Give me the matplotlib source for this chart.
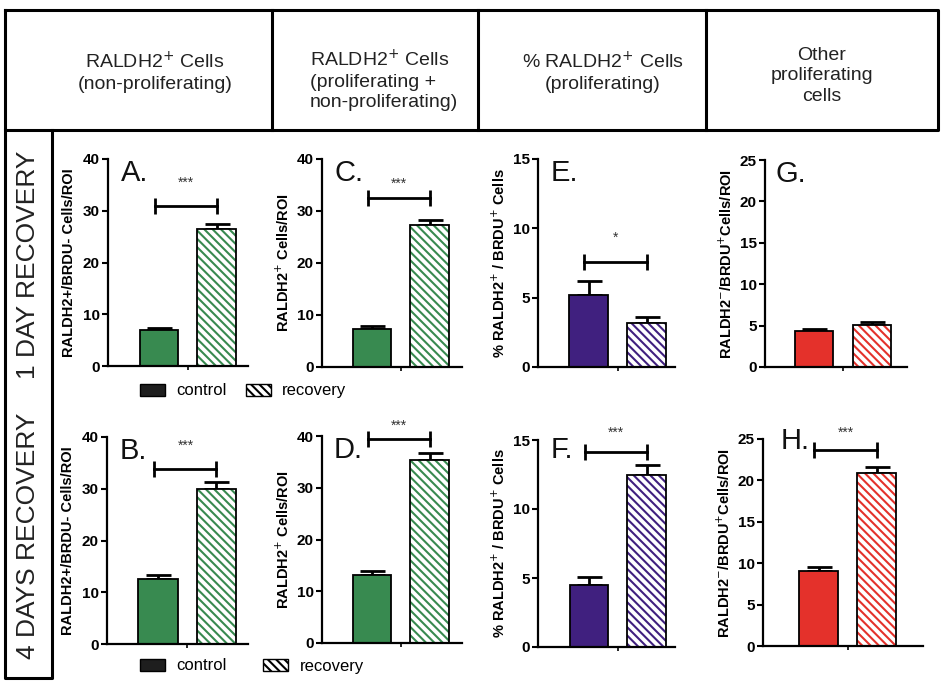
import numpy as np
import matplotlib.pyplot as plt
from matplotlib.patches import Patch

plt.rcParams['font.family'] = ['Liberation Sans', 'DejaVu Sans']
plt.rcParams['hatch.linewidth'] = 1.5

W, H = 944, 689

# data (control vs recovery, mean and upper SEM)
panels = ['A', 'C', 'E', 'G', 'B', 'D', 'F', 'H']
control = [7.0, 7.4, 5.2, 4.3, 12.6, 13.2, 4.5, 9.1]
control_err = [0.35, 0.4, 1.0, 0.3, 0.7, 0.8, 0.6, 0.5]
recovery = [26.5, 27.4, 3.2, 5.1, 30.0, 35.3, 12.5, 20.9]
recovery_err = [0.9, 0.9, 0.4, 0.3, 1.3, 1.5, 0.7, 0.7]
sig_text = ['***', '***', '*', '', '***', '***', '***', '***']
sig_level = [31, 32.5, 7.6, None, 33.8, 39.4, 14.1, 23.7]
star_level = [35.5, 35.2, 9.3, None, 38.3, 42.0, 15.5, 25.7]
y_max = [40, 40, 15, 25, 40, 40, 15, 25]
y_step = [10, 10, 5, 5, 10, 10, 5, 5]
ylabels = ['RALDH2+/BRDU- Cells/ROI',
           r'RALDH2$^{+}$ Cells/ROI',
           r'% RALDH2$^{+}$ / BRDU$^{+}$ Cells',
           r'RALDH2$^{-}$/BRDU$^{+}$Cells/ROI'] * 2
colors = ['#388a50', '#388a50', '#40207f', '#e4312b'] * 2
letter_y = [40, 40, 15, 25, 40, 40, 15.3, 26.4]

headers = ['RALDH2$^{+}$ Cells\n(non-proliferating)',
           'RALDH2$^{+}$ Cells\n(proliferating +\nnon-proliferating)',
           '% RALDH2$^{+}$ Cells\n(proliferating)',
           'Other\nproliferating\ncells']
row_labels = ['1 DAY RECOVERY', '4 DAYS RECOVERY']
legend_labels = ['control', 'recovery']

# layout in pixels: axis left, y of 0, y of max, axis width, centre of first bar, bar spacing
layout = {
    'A': (108, 366, 159, 140, 159, 57.5),
    'C': (322, 367, 159, 140, 372, 57.5),
    'E': (538, 367, 159, 137, 588.5, 58),
    'G': (765, 367, 160, 142, 814, 58),
    'B': (107, 644, 437, 141, 158, 58.5),
    'D': (322, 643, 436, 140, 372, 57.5),
    'F': (538, 647, 440, 137, 589, 57.5),
    'H': (763, 646, 439, 160, 818.5, 58),
}

fig = plt.figure(figsize=(W / 100, H / 100), dpi=100)

# table frame
frame = fig.add_axes([0, 0, 1, 1])
frame.set_xlim(0, W)
frame.set_ylim(H, 0)
frame.axis('off')
lw = 2.2
frame.plot([5, 938, 938, 5, 5], [10, 10, 130, 130, 10], color='black', lw=lw)
for x in [272, 478, 706]:
    frame.plot([x, x], [10, 130], color='black', lw=lw)
frame.plot([5, 5, 52, 52], [130, 678, 678, 130], color='black', lw=lw)

frame.text(155, 72, headers[0], ha='center', va='center', fontsize=14,
           color='#222222', linespacing=1.25)
frame.text(310, 80, headers[1], ha='left', va='center', fontsize=14,
           color='#222222', linespacing=1.25)
frame.text(603, 72, headers[2], ha='center', va='center', fontsize=14,
           color='#222222', linespacing=1.25)
frame.text(822, 76, headers[3], ha='center', va='center', fontsize=14,
           color='#222222', linespacing=1.25)

frame.text(28, 265, row_labels[0], rotation=90, ha='center', va='center',
           fontsize=19, color='#222222')
frame.text(28, 536, row_labels[1], rotation=90, ha='center', va='center',
           fontsize=19, color='#222222')

bw = 0.67
for i, p in enumerate(panels):
    left, y0, ytop, width, c0, gap = layout[p]
    ax = fig.add_axes([left / W, 1 - y0 / H, width / W, (y0 - ytop) / H])
    col = colors[i]
    ax.bar(0, control[i], bw, color=col, edgecolor='black', linewidth=1.3, zorder=2)
    ax.bar(1, recovery[i], bw, color='white', edgecolor=col, hatch='\\\\\\\\',
           linewidth=0, zorder=2)
    ax.bar(1, recovery[i], bw, fill=False, edgecolor='black', linewidth=1.3, zorder=3)
    ax.errorbar([0, 1], [control[i], recovery[i]],
                yerr=[[0, 0], [control_err[i], recovery_err[i]]],
                fmt='none', ecolor='black', elinewidth=2, capsize=9, capthick=2,
                zorder=1)
    if sig_level[i] is not None:
        ax.plot([-0.07, 1.0], [sig_level[i]] * 2, color='black', lw=2,
                marker='|', markersize=11, mew=2, clip_on=False)
        ax.text(0.47, star_level[i], sig_text[i], ha='center', va='center',
                fontsize=10, color='#333333', clip_on=False)
    ax.text(-0.66, letter_y[i], p + '.', ha='left', va='top', fontsize=21,
            color='#111111')

    ax.set_xlim((left - c0) / gap, (left + width - c0) / gap)
    ax.set_ylim(0, y_max[i])
    ax.set_yticks(np.arange(0, y_max[i] + 1, y_step[i]))
    ax.set_xticks([0.5])
    ax.set_xticklabels([''])
    for s in ['top', 'right']:
        ax.spines[s].set_visible(False)
    for s in ['left', 'bottom']:
        ax.spines[s].set_linewidth(1.6)
    ax.tick_params(axis='y', length=4, width=1.5, pad=2, labelsize=11)
    ax.tick_params(axis='x', length=3, width=1.2)
    for t in ax.get_yticklabels():
        t.set_fontweight('bold')
    ax.set_ylabel(ylabels[i], fontsize=10.5, fontweight='bold')
    ax.yaxis.label.set_va('center')
    ax.yaxis.set_label_coords(-39 / width, 0.5)
    ax.patch.set_alpha(0)

handles = [Patch(facecolor='#1e1e1e', edgecolor='black'),
           Patch(facecolor='white', edgecolor='black', hatch='\\\\\\\\')]
for yy, cs in [(391, 1.15), (666, 2.2)]:
    fig.legend(handles, legend_labels, loc='center left',
               bbox_to_anchor=(140 / W, 1 - yy / H), ncol=2, frameon=False,
               fontsize=12, handlelength=1.5, handleheight=0.72,
               handletextpad=0.67, columnspacing=cs, borderpad=0,
               borderaxespad=0)

fig.savefig('out.png', dpi=100)
